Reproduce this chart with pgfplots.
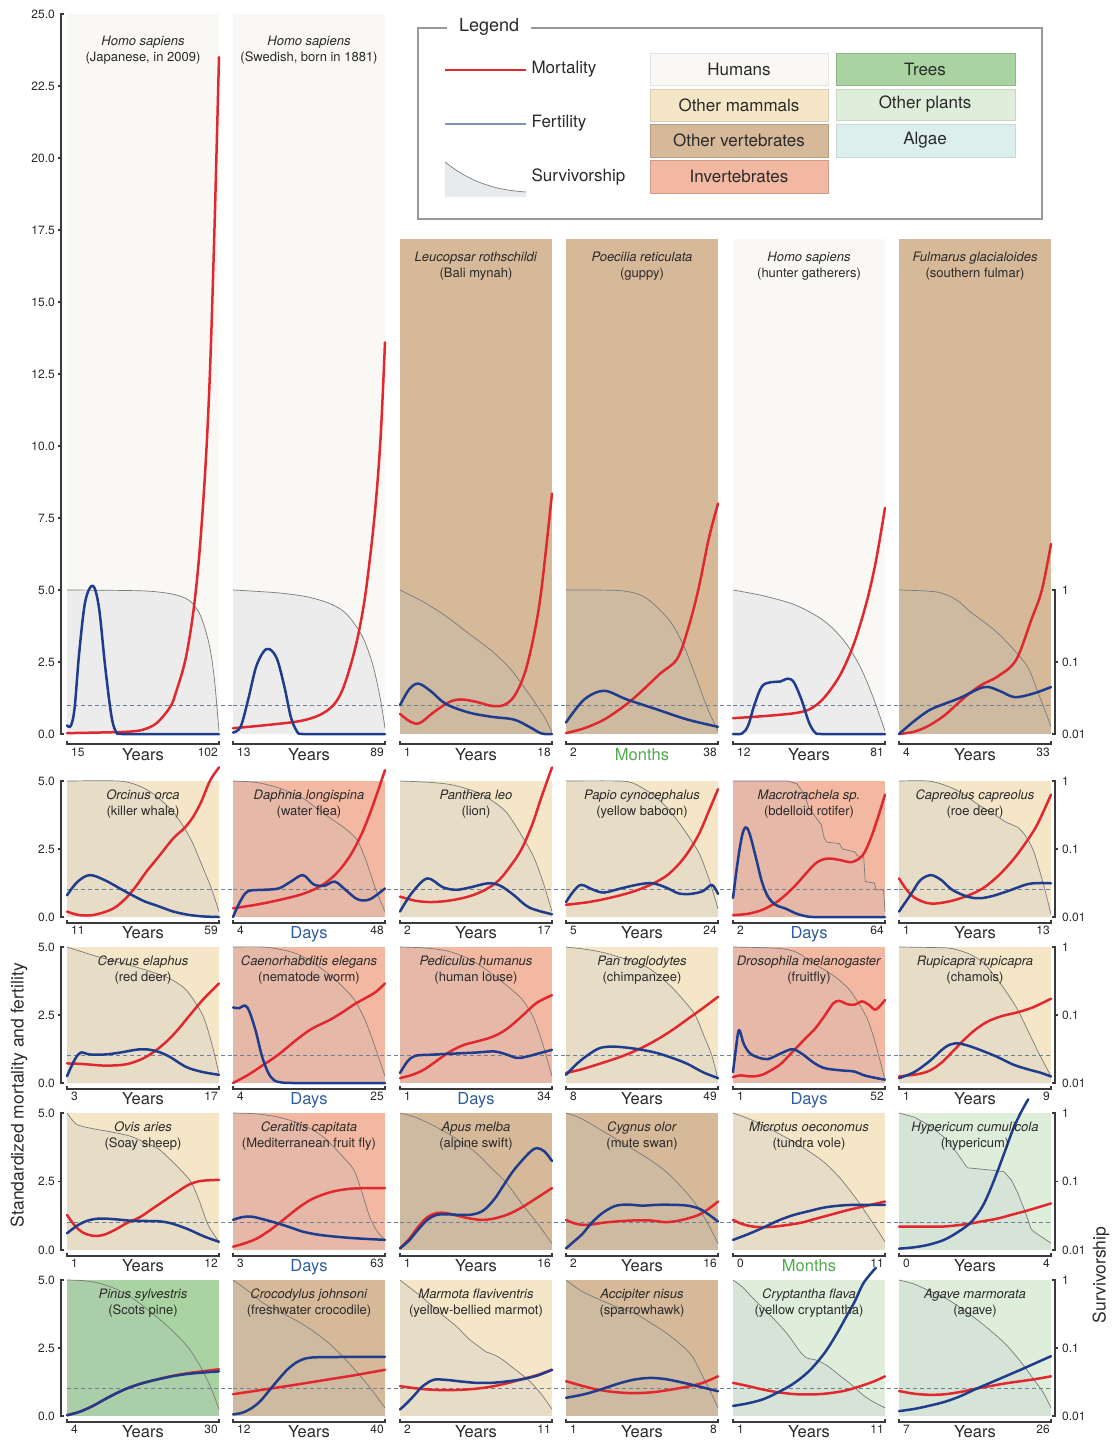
\documentclass[border=0pt]{standalone}
\usepackage{pgfplots}
\pgfplotsset{compat=1.18}
\usepackage{fontspec}
\setmainfont{TeX Gyre Heros}
\definecolor{cRed}{HTML}{E0282E}
\definecolor{cBlue}{HTML}{1F3D8C}
\definecolor{cLBlue}{HTML}{7B96B8}
\definecolor{cGrey}{HTML}{7A7A7A}
\definecolor{cSurv}{HTML}{B0BCC8}
\definecolor{bHum}{HTML}{FAF8F4}
\definecolor{bMam}{HTML}{F5E6C7}
\definecolor{bVer}{HTML}{D6B998}
\definecolor{bInv}{HTML}{F3B8A1}
\definecolor{bTre}{HTML}{A9D4A1}
\definecolor{bPla}{HTML}{DFEEDA}
\definecolor{bAlg}{HTML}{DDEFEC}
\definecolor{cDays}{HTML}{2F5DA3}
\definecolor{cMon}{HTML}{4FA94B}
\definecolor{cTxt}{HTML}{2A2A2A}
\definecolor{cAx}{HTML}{3A3A3A}
\definecolor{cDash}{HTML}{6D8096}
\newcommand{\tickf}{\fontsize{12}{14}\selectfont}
\newcommand{\numf}{\fontsize{12}{14}\selectfont}
\newcommand{\unitf}{\fontsize{16.5}{18}\selectfont}
\newcommand{\labf}{\fontsize{13}{15.5}\selectfont}
\pgfplotsset{
 panel/.style={scale only axis, width=152pt, anchor=south west, xmin=0, xmax=1, ymin=0,
   clip=false, axis line style={draw=none}, xtick=\empty, ytick=\empty},
 mort/.style={smooth, tension=0.55, color=cRed, line width=2.5pt, line cap=round, line join=round},
 fert/.style={smooth, tension=0.55, color=cBlue, line width=2.5pt, line cap=round, line join=round},
 survl/.style={color=cGrey, line width=0.7pt},
}
\tikzset{axl/.style={draw=cAx, line width=1.4pt}, dashl/.style={draw=cDash, line width=0.7pt, dash pattern=on 4pt off 3pt}}
\newcommand{\surv}[2][smooth, tension=0.5]{%
 \addplot[#1, draw=none, fill=cSurv, fill opacity=0.2] coordinates {#2} \closedcycle;
 \addplot[#1, survl] coordinates {#2};}
\newcommand{\mort}[1]{\addplot[mort] coordinates {#1};}
\newcommand{\fert}[1]{\addplot[fert] coordinates {#1};}
\newcommand{\dline}[1][15pt]{\draw[dashl] (axis cs:0,1) -- ([xshift=#1]axis cs:1,1);}
\newcommand{\lab}[3][9pt]{\node[anchor=north, align=center, font=\labf, text=cTxt, inner sep=0pt] at ([yshift=-#1]rel axis cs:0.5,1) {\textit{#2}\\(#3)};}
\def\xa{-3pt}\def\xb{-6pt}\def\xc{-9pt}
\newcommand{\xl}[4][cTxt]{%
 \draw[axl] ([yshift=\xa]rel axis cs:0,0) -- ([yshift=\xb]rel axis cs:0,0) -- ([yshift=\xb]rel axis cs:1,0) -- ([yshift=\xa]rel axis cs:1,0);
 \node[anchor=north west, inner sep=0pt, font=\numf, text=cTxt] at ([xshift=4pt,yshift=\xc]rel axis cs:0,0) {#2};
 \node[anchor=north east, inner sep=0pt, font=\numf, text=cTxt] at ([xshift=-1pt,yshift=\xc]rel axis cs:1,0) {#4};
 \node[anchor=north, inner sep=0pt, font=\unitf, text=#1] at ([yshift=\xc]rel axis cs:0.5,0) {#3};}
\newcommand{\lframe}[1]{\draw[axl] ([xshift=-3pt]axis cs:0,0) -- ([xshift=-6pt]axis cs:0,0) -- ([xshift=-6pt]axis cs:0,#1) -- ([xshift=-3pt]axis cs:0,#1);}
\newcommand{\lnum}[2]{\node[anchor=east, font=\tickf, text=cTxt, inner sep=0pt] at ([xshift=-12pt]axis cs:0,#1) {#2};}
\newcommand{\ltick}[2]{\draw[axl] ([xshift=-6pt]axis cs:0,#1) -- ([xshift=-9pt]axis cs:0,#1); \lnum{#1}{#2}}
\newcommand{\lsmall}{\lframe{5}\lnum{0}{0.0}\ltick{2.5}{2.5}\lnum{5}{5.0}}
\newcommand{\raxis}{\draw[axl] ([xshift=1pt]axis cs:1,0) -- ([xshift=4pt]axis cs:1,0) -- ([xshift=4pt]axis cs:1,5) -- ([xshift=1pt]axis cs:1,5);
 \draw[axl] ([xshift=4pt]axis cs:1,2.5) -- ([xshift=7pt]axis cs:1,2.5);
 \node[anchor=west, font=\tickf, text=cTxt, inner sep=0pt] at ([xshift=11pt]axis cs:1,5) {1};
 \node[anchor=west, font=\tickf, text=cTxt, inner sep=0pt] at ([xshift=11pt]axis cs:1,2.5) {0.1};
 \node[anchor=west, font=\tickf, text=cTxt, inner sep=0pt] at ([xshift=11pt]axis cs:1,0) {0.01};}
\begin{document}
\begin{tikzpicture}
\useasboundingbox (0,0) rectangle (1116pt,-1443pt);
% ================= TOP: tall panels =================
\def\xa{-7pt}\def\xb{-10pt}\def\xc{-14pt}
\begin{axis}[panel, at={(67pt,-734pt)}, height=720pt, ymax=25, axis background/.style={fill=bHum}]
\surv{(0,5)(0.5,4.97)(0.7,4.85)(0.8,4.65)(0.86,4.3)(0.9,3.8)(0.94,3.0)(0.97,1.9)(1,0.1)}
\dline
\mort{(0,0.03)(0.2,0.05)(0.4,0.08)(0.5,0.15)(0.59,0.38)(0.68,0.95)(0.72,1.5)(0.78,2.6)(0.83,4.2)(0.87,6.2)(0.91,9.2)(0.94,12.5)(0.97,17.5)(1,23.5)}
\fert{(0,0.3)(0.025,0.28)(0.05,0.9)(0.08,2.8)(0.12,4.6)(0.17,5.15)(0.21,4.4)(0.25,2.4)(0.29,0.7)(0.32,0.1)(0.36,0)(0.6,0)(1,0)}
\lab[22pt]{Homo sapiens}{Japanese, in 2009}
\xl{15}{Years}{102}
\lframe{25}\lnum{0}{0.0}\ltick{2.5}{2.5}\ltick{5}{5.0}\ltick{7.5}{7.5}\ltick{10}{10.0}\ltick{12.5}{12.5}\ltick{15}{15.0}\ltick{17.5}{17.5}\ltick{20}{20.0}\ltick{22.5}{22.5}\lnum{25}{25.0}
\end{axis}
\begin{axis}[panel, at={(233pt,-734pt)}, height=720pt, ymax=25, axis background/.style={fill=bHum}]
\surv{(0,5)(0.3,4.9)(0.5,4.75)(0.65,4.5)(0.75,4.15)(0.85,3.4)(0.92,2.4)(0.97,1.2)(1,0.2)}
\dline
\mort{(0,0.2)(0.22,0.31)(0.44,0.45)(0.57,0.66)(0.66,1.0)(0.72,1.53)(0.78,2.5)(0.83,3.6)(0.875,5.0)(0.93,7.5)(0.97,10.2)(1,13.6)}
\fert{(0,0.05)(0.05,0.25)(0.1,1.2)(0.15,2.3)(0.2,2.85)(0.24,2.95)(0.29,2.6)(0.34,1.6)(0.38,0.6)(0.42,0.1)(0.46,0)(0.7,0)(1,0)}
\lab[22pt]{Homo sapiens}{Swedish, born in 1881}
\xl{13}{Years}{89}
\end{axis}
% ================= Row 2 =================
\begin{axis}[panel, at={(400pt,-734pt)}, height=495pt, ymax=17.1875, axis background/.style={fill=bVer}]
\surv{(0,5)(0.15,4.6)(0.3,4.1)(0.45,3.5)(0.6,2.9)(0.72,2.3)(0.82,1.6)(0.9,1.0)(0.96,0.5)(1,0.05)}
\dline
\mort{(0,0.7)(0.07,0.42)(0.13,0.38)(0.22,0.75)(0.32,1.1)(0.4,1.2)(0.5,1.12)(0.6,0.98)(0.68,1.0)(0.75,1.3)(0.82,2.1)(0.88,3.4)(0.93,5.0)(1,8.35)}
\fert{(0,1.0)(0.06,1.55)(0.12,1.75)(0.2,1.5)(0.3,1.05)(0.45,0.75)(0.6,0.6)(0.75,0.5)(0.85,0.25)(0.93,0.02)(1,0)}
\lab[13pt]{Leucopsar rothschildi}{Bali mynah}
\xl{1}{Years}{18}
\end{axis}
\begin{axis}[panel, at={(566pt,-734pt)}, height=495pt, ymax=17.1875, axis background/.style={fill=bVer}]
\surv{(0,5)(0.35,4.98)(0.5,4.8)(0.6,4.4)(0.7,3.8)(0.78,3.0)(0.86,1.9)(0.93,0.9)(1,0.1)}
\dline
\mort{(0,0.03)(0.12,0.2)(0.25,0.5)(0.39,1.0)(0.5,1.5)(0.62,2.1)(0.73,2.6)(0.8,3.6)(0.87,5.0)(0.94,6.8)(1,8.0)}
\fert{(0,0.4)(0.12,1.2)(0.25,1.5)(0.4,1.2)(0.6,0.85)(0.8,0.5)(1,0.25)}
\lab[13pt]{Poecilia reticulata}{guppy}
\xl[cMon]{2}{Months}{38}
\end{axis}
\begin{axis}[panel, at={(733pt,-734pt)}, height=495pt, ymax=17.1875, axis background/.style={fill=bHum}]
\surv{(0,5)(0.2,4.8)(0.4,4.5)(0.55,4.1)(0.65,3.7)(0.75,3.1)(0.84,2.3)(0.92,1.3)(1,0.1)}
\dline
\mort{(0,0.55)(0.2,0.62)(0.4,0.72)(0.5,0.85)(0.58,1.15)(0.65,1.6)(0.72,2.2)(0.8,3.2)(0.88,4.6)(0.94,6.0)(1,7.85)}
\fert{(0,0)(0.06,0.02)(0.1,0.3)(0.14,1.0)(0.19,1.65)(0.25,1.8)(0.31,1.82)(0.36,1.92)(0.4,1.8)(0.45,1.2)(0.5,0.4)(0.54,0.05)(0.58,0)(0.8,0)(1,0)}
\lab[13pt]{Homo sapiens}{hunter gatherers}
\xl{12}{Years}{81}
\end{axis}
\begin{axis}[panel, at={(899pt,-734pt)}, height=495pt, ymax=17.1875, axis background/.style={fill=bVer}]
\surv{(0,5)(0.25,4.93)(0.38,4.65)(0.47,4.24)(0.63,3.6)(0.76,2.9)(0.85,2.3)(0.91,1.5)(0.96,0.83)(1,0.25)}
\dline[0pt]
\mort{(0,0)(0.1,0.08)(0.2,0.3)(0.3,0.65)(0.37,0.98)(0.45,1.35)(0.54,1.7)(0.65,2.0)(0.77,2.57)(0.87,3.96)(0.94,5.0)(1,6.6)}
\fert{(0,0)(0.1,0.45)(0.2,0.83)(0.3,1.05)(0.4,1.25)(0.56,1.63)(0.66,1.5)(0.76,1.28)(0.88,1.4)(1,1.63)}
\lab[13pt]{Fulmarus glacialoides}{southern fulmar}
\xl{4}{Years}{33}
\raxis
\end{axis}
% ================= Row 3 =================
\def\xa{-3pt}\def\xb{-6pt}\def\xc{-9pt}
\begin{axis}[panel, at={(67pt,-917pt)}, height=136pt, ymax=5, axis background/.style={fill=bMam}]
\surv{(0,5)(0.34,5)(0.46,4.85)(0.55,4.6)(0.63,4.24)(0.7,3.85)(0.76,3.38)(0.82,2.8)(0.86,2.28)(0.91,1.6)(0.95,1.05)(1,0.2)}
\dline
\mort{(0,0.2)(0.08,0.07)(0.18,0.08)(0.3,0.3)(0.38,0.65)(0.45,1.1)(0.52,1.65)(0.6,2.2)(0.7,2.9)(0.76,3.2)(0.82,3.6)(0.88,4.2)(0.94,5.0)(1,5.5)}
\fert{(0,0.8)(0.07,1.3)(0.15,1.54)(0.25,1.35)(0.38,0.95)(0.5,0.6)(0.6,0.4)(0.7,0.2)(0.8,0.08)(0.9,0.02)(1,0)}
\lab{Orcinus orca}{killer whale}
\xl{11}{Years}{59}
\lsmall
\end{axis}
\begin{axis}[panel, at={(233pt,-917pt)}, height=136pt, ymax=5, axis background/.style={fill=bInv}]
\surv{(0,5)(0.15,4.95)(0.3,4.75)(0.45,4.4)(0.55,4.0)(0.65,3.6)(0.75,3.2)(0.82,2.8)(0.88,2.0)(0.94,1.0)(1,0.2)}
\dline
\mort{(0,0.32)(0.15,0.45)(0.3,0.62)(0.46,0.85)(0.58,1.15)(0.68,1.6)(0.77,2.25)(0.85,3.1)(0.92,4.1)(1,5.4)}
\fert{(0,0)(0.05,0.6)(0.1,0.95)(0.2,1.0)(0.3,1.05)(0.38,1.3)(0.46,1.54)(0.53,1.2)(0.6,1.15)(0.67,1.3)(0.74,1.0)(0.82,0.65)(0.9,0.65)(1,1.05)}
\lab{Daphnia longispina}{water flea}
\xl[cDays]{4}{Days}{48}
\end{axis}
\begin{axis}[panel, at={(400pt,-917pt)}, height=136pt, ymax=5, axis background/.style={fill=bMam}]
\surv{(0,5)(0.2,4.95)(0.35,4.85)(0.5,4.6)(0.6,4.3)(0.7,3.85)(0.8,3.0)(0.88,2.2)(0.94,1.3)(1,0.2)}
\dline
\mort{(0,0.75)(0.1,0.6)(0.2,0.55)(0.32,0.6)(0.45,0.75)(0.56,1.0)(0.65,1.35)(0.73,1.9)(0.8,2.5)(0.87,3.4)(0.93,4.4)(1,5.5)}
\fert{(0,0.2)(0.08,0.9)(0.18,1.42)(0.28,1.1)(0.37,1.0)(0.47,1.1)(0.58,1.24)(0.66,1.15)(0.75,0.8)(0.85,0.35)(1,0.1)}
\lab{Panthera leo}{lion}
\xl{2}{Years}{17}
\end{axis}
\begin{axis}[panel, at={(566pt,-917pt)}, height=136pt, ymax=5, axis background/.style={fill=bMam}]
\surv{(0,5)(0.35,5)(0.45,4.9)(0.57,4.5)(0.66,4.05)(0.74,3.5)(0.82,2.85)(0.88,2.3)(0.94,1.4)(1,0.3)}
\dline
\mort{(0,0.45)(0.15,0.55)(0.3,0.72)(0.45,0.95)(0.58,1.25)(0.68,1.6)(0.78,2.2)(0.87,3.0)(0.94,3.9)(1,4.7)}
\fert{(0,0.55)(0.05,0.95)(0.1,1.18)(0.18,1.0)(0.25,0.9)(0.36,1.05)(0.48,1.2)(0.57,1.24)(0.66,1.08)(0.74,0.87)(0.82,0.85)(0.9,0.95)(0.96,1.18)(1,0.85)}
\lab{Papio cynocephalus}{yellow baboon}
\xl{5}{Years}{24}
\end{axis}
\begin{axis}[panel, at={(733pt,-917pt)}, height=136pt, ymax=5, axis background/.style={fill=bInv}]
\surv[sharp plot]{(0,5)(0.36,5)(0.42,4.9)(0.47,4.5)(0.5,4.0)(0.54,3.7)(0.58,3.4)(0.6,2.9)(0.62,2.75)(0.7,2.7)(0.72,2.5)(0.8,2.4)(0.82,2.25)(0.86,2.2)(0.87,1.3)(0.93,1.25)(0.94,1.0)(0.99,1.0)(1,0.2)}
\dline
\mort{(0,0.07)(0.1,0.12)(0.2,0.28)(0.3,0.6)(0.4,1.1)(0.48,1.6)(0.55,2.0)(0.62,2.15)(0.7,2.1)(0.78,2.02)(0.85,2.25)(0.9,2.8)(0.95,3.6)(1,4.5)}
\fert{(0,0.7)(0.03,2.0)(0.06,3.0)(0.085,3.3)(0.11,3.05)(0.15,2.2)(0.19,1.3)(0.23,0.75)(0.28,0.45)(0.35,0.3)(0.42,0.12)(0.5,0.01)(0.6,0)(0.8,0)(1,0)}
\lab{Macrotrachela sp.}{bdelloid rotifer}
\xl[cDays]{2}{Days}{64}
\end{axis}
\begin{axis}[panel, at={(899pt,-917pt)}, height=136pt, ymax=5, axis background/.style={fill=bMam}]
\surv{(0,5)(0.19,5)(0.3,4.85)(0.4,4.6)(0.53,4.1)(0.62,3.8)(0.7,3.5)(0.78,3.3)(0.83,3.0)(0.88,2.5)(0.92,1.8)(0.96,1.0)(1,0.1)}
\dline[0pt]
\mort{(0,1.42)(0.05,1.0)(0.1,0.72)(0.18,0.52)(0.25,0.5)(0.35,0.6)(0.45,0.78)(0.55,1.05)(0.65,1.5)(0.75,2.1)(0.83,2.7)(0.9,3.3)(0.96,4.0)(1,4.5)}
\fert{(0,0.2)(0.08,0.85)(0.14,1.35)(0.21,1.54)(0.28,1.35)(0.35,1.0)(0.45,0.75)(0.53,0.69)(0.62,0.78)(0.74,1.0)(0.84,1.2)(0.92,1.25)(1,1.24)}
\lab{Capreolus capreolus}{roe deer}
\xl{1}{Years}{13}
\raxis
\end{axis}
% ================= Row 4 =================
\begin{axis}[panel, at={(67pt,-1083pt)}, height=136pt, ymax=5, axis background/.style={fill=bMam}]
\surv{(0,5)(0.2,4.65)(0.4,4.35)(0.55,4.1)(0.67,3.85)(0.77,3.5)(0.84,3.0)(0.9,2.4)(0.95,1.5)(1,0.35)}
\dline
\mort{(0,0.72)(0.1,0.7)(0.25,0.64)(0.38,0.68)(0.48,0.85)(0.56,1.1)(0.64,1.45)(0.72,1.9)(0.8,2.44)(0.9,3.1)(1,3.66)}
\fert{(0,0.25)(0.05,0.85)(0.09,1.12)(0.15,1.05)(0.25,1.05)(0.35,1.12)(0.45,1.22)(0.52,1.24)(0.6,1.15)(0.68,0.95)(0.78,0.6)(0.88,0.42)(1,0.3)}
\lab{Cervus elaphus}{red deer}
\xl{3}{Years}{17}
\lsmall
\end{axis}
\begin{axis}[panel, at={(233pt,-1083pt)}, height=136pt, ymax=5, axis background/.style={fill=bInv}]
\surv{(0,5)(0.2,5)(0.32,4.9)(0.42,4.75)(0.52,4.45)(0.63,4.0)(0.72,3.55)(0.8,3.05)(0.87,2.3)(0.93,1.4)(1,0.25)}
\dline
\mort{(0,0.0)(0.1,0.3)(0.2,0.67)(0.3,1.05)(0.42,1.6)(0.52,2.0)(0.63,2.3)(0.72,2.6)(0.8,2.9)(0.88,3.15)(0.94,3.35)(1,3.66)}
\fert{(0,2.78)(0.04,2.75)(0.08,2.85)(0.11,2.6)(0.15,1.9)(0.19,1.0)(0.23,0.4)(0.27,0.1)(0.32,0.02)(0.4,0)(0.7,0)(1,0)}
\lab{Caenorhabditis elegans}{nematode worm}
\xl[cDays]{4}{Days}{25}
\end{axis}
\begin{axis}[panel, at={(400pt,-1083pt)}, height=136pt, ymax=5, axis background/.style={fill=bInv}]
\surv{(0,5)(0.15,4.97)(0.3,4.87)(0.42,4.65)(0.52,4.35)(0.62,3.95)(0.72,3.5)(0.8,3.1)(0.87,2.5)(0.93,1.6)(1,0.25)}
\dline
\mort{(0,0.18)(0.08,0.3)(0.16,0.5)(0.25,0.85)(0.33,1.16)(0.42,1.4)(0.5,1.52)(0.6,1.68)(0.68,1.9)(0.75,2.2)(0.82,2.55)(0.9,2.95)(1,3.23)}
\fert{(0,0.37)(0.05,0.8)(0.1,1.0)(0.2,1.04)(0.35,1.08)(0.5,1.12)(0.62,1.16)(0.7,1.05)(0.77,0.92)(0.84,0.98)(0.92,1.1)(1,1.22)}
\lab{Pediculus humanus}{human louse}
\xl[cDays]{1}{Days}{34}
\end{axis}
\begin{axis}[panel, at={(566pt,-1083pt)}, height=136pt, ymax=5, axis background/.style={fill=bMam}]
\surv{(0,5)(0.15,4.9)(0.28,4.75)(0.42,4.5)(0.53,4.27)(0.62,3.9)(0.7,3.5)(0.78,3.0)(0.85,2.5)(0.91,1.7)(0.96,1.0)(1,0.12)}
\dline
\mort{(0,0.37)(0.1,0.5)(0.2,0.67)(0.3,0.85)(0.4,1.05)(0.5,1.3)(0.6,1.6)(0.7,1.95)(0.8,2.35)(0.9,2.75)(1,3.17)}
\fert{(0,0.3)(0.08,0.75)(0.15,1.05)(0.22,1.28)(0.3,1.34)(0.4,1.3)(0.5,1.22)(0.6,1.1)(0.7,0.92)(0.8,0.7)(0.9,0.4)(1,0.18)}
\lab{Pan troglodytes}{chimpanzee}
\xl{8}{Years}{49}
\end{axis}
\begin{axis}[panel, at={(733pt,-1083pt)}, height=136pt, ymax=5, axis background/.style={fill=bInv}]
\surv{(0,5)(0.3,4.95)(0.42,4.8)(0.53,4.4)(0.62,4.1)(0.7,3.78)(0.77,3.4)(0.83,2.9)(0.88,2.4)(0.93,1.6)(1,0.12)}
\dline
\mort{(0,0.22)(0.05,0.28)(0.12,0.24)(0.19,0.3)(0.26,0.5)(0.32,0.73)(0.4,1.2)(0.47,1.6)(0.54,2.0)(0.6,2.45)(0.66,2.93)(0.7,3.02)(0.75,2.9)(0.8,2.88)(0.85,3.0)(0.9,2.85)(0.94,2.7)(1,3.05)}
\fert{(0,0.4)(0.02,1.3)(0.04,1.95)(0.07,1.45)(0.11,1.1)(0.17,0.93)(0.23,0.88)(0.3,1.05)(0.36,1.2)(0.4,1.24)(0.46,1.05)(0.53,0.75)(0.6,0.55)(0.7,0.47)(0.8,0.42)(0.87,0.27)(1,0.12)}
\lab{Drosophila melanogaster}{fruitfly}
\xl[cDays]{1}{Days}{52}
\end{axis}
\begin{axis}[panel, at={(899pt,-1083pt)}, height=136pt, ymax=5, axis background/.style={fill=bMam}]
\surv{(0,5)(0.3,4.97)(0.38,4.9)(0.46,4.75)(0.55,4.45)(0.62,4.0)(0.7,3.4)(0.78,2.7)(0.85,1.9)(0.92,1.1)(1,0.24)}
\dline[0pt]
\mort{(0,0.24)(0.06,0.28)(0.12,0.32)(0.2,0.45)(0.28,0.75)(0.36,1.2)(0.43,1.6)(0.5,1.95)(0.58,2.25)(0.67,2.45)(0.78,2.6)(0.88,2.78)(1,3.1)}
\fert{(0,0.18)(0.1,0.4)(0.2,0.8)(0.3,1.3)(0.37,1.46)(0.45,1.38)(0.55,1.18)(0.65,0.95)(0.75,0.68)(0.85,0.5)(0.93,0.38)(1,0.24)}
\lab{Rupicapra rupicapra}{chamois}
\xl{1}{Years}{9}
\raxis
\end{axis}
% ================= Row 5 =================
\begin{axis}[panel, at={(67pt,-1250pt)}, height=137pt, ymax=5, axis background/.style={fill=bMam}]
\surv{(0,5)(0.06,4.6)(0.15,4.45)(0.3,4.3)(0.42,4.15)(0.52,3.9)(0.6,3.7)(0.68,3.3)(0.76,2.85)(0.82,2.45)(0.87,1.8)(0.93,0.9)(1,0.3)}
\dline
\mort{(0,1.28)(0.05,0.9)(0.1,0.65)(0.17,0.52)(0.24,0.55)(0.32,0.75)(0.4,1.0)(0.48,1.2)(0.56,1.5)(0.64,1.8)(0.72,2.1)(0.8,2.38)(0.88,2.52)(1,2.56)}
\fert{(0,0.61)(0.07,0.9)(0.14,1.08)(0.22,1.15)(0.32,1.12)(0.42,1.07)(0.52,1.06)(0.62,1.04)(0.7,0.95)(0.8,0.75)(0.9,0.5)(1,0.3)}
\lab{Ovis aries}{Soay sheep}
\xl{1}{Years}{12}
\lsmall
\end{axis}
\begin{axis}[panel, at={(233pt,-1250pt)}, height=137pt, ymax=5, axis background/.style={fill=bInv}]
\surv{(0,5)(0.15,4.97)(0.3,4.85)(0.42,4.65)(0.52,4.4)(0.6,4.1)(0.67,3.72)(0.74,3.3)(0.8,2.87)(0.86,1.9)(0.9,1.2)(0.95,0.67)(1,0.37)}
\dline
\mort{(0,0.12)(0.08,0.25)(0.16,0.43)(0.25,0.75)(0.33,1.1)(0.42,1.5)(0.5,1.8)(0.58,2.0)(0.67,2.15)(0.78,2.24)(0.9,2.26)(1,2.26)}
\fert{(0,1.1)(0.06,1.2)(0.12,1.22)(0.2,1.12)(0.29,0.98)(0.38,0.82)(0.46,0.67)(0.56,0.56)(0.67,0.49)(0.8,0.43)(1,0.37)}
\lab{Ceratitis capitata}{Mediterranean fruit fly}
\xl[cDays]{3}{Days}{63}
\end{axis}
\begin{axis}[panel, at={(400pt,-1250pt)}, height=137pt, ymax=5, axis background/.style={fill=bVer}]
\surv{(0,5)(0.1,4.85)(0.2,4.6)(0.3,4.3)(0.4,3.95)(0.5,3.55)(0.6,3.0)(0.7,2.45)(0.8,1.7)(0.9,1.0)(1,0.24)}
\dline
\mort{(0,0.06)(0.06,0.4)(0.12,0.85)(0.18,1.2)(0.24,1.35)(0.3,1.35)(0.38,1.25)(0.46,1.15)(0.54,1.1)(0.62,1.15)(0.71,1.3)(0.8,1.55)(0.9,1.9)(1,2.26)}
\fert{(0,0.06)(0.06,0.35)(0.12,0.75)(0.18,1.1)(0.24,1.28)(0.32,1.3)(0.4,1.28)(0.48,1.3)(0.55,1.45)(0.62,1.85)(0.68,2.35)(0.74,2.85)(0.8,3.25)(0.86,3.6)(0.9,3.72)(0.95,3.6)(1,3.25)}
\lab{Apus melba}{alpine swift}
\xl{1}{Years}{16}
\end{axis}
\begin{axis}[panel, at={(566pt,-1250pt)}, height=137pt, ymax=5, axis background/.style={fill=bVer}]
\surv{(0,5)(0.08,4.85)(0.18,4.55)(0.3,4.15)(0.42,3.75)(0.55,3.3)(0.66,2.85)(0.76,2.3)(0.85,1.7)(0.93,1.0)(1,0.24)}
\dline
\mort{(0,1.1)(0.07,0.95)(0.15,0.92)(0.25,1.0)(0.35,1.05)(0.45,1.08)(0.55,1.08)(0.65,1.02)(0.72,1.05)(0.8,1.15)(0.88,1.3)(0.95,1.55)(1,1.77)}
\fert{(0,0.06)(0.05,0.3)(0.11,0.6)(0.17,1.0)(0.24,1.35)(0.32,1.6)(0.4,1.66)(0.5,1.62)(0.6,1.65)(0.7,1.65)(0.8,1.62)(0.88,1.5)(0.95,1.25)(1,1.04)}
\lab{Cygnus olor}{mute swan}
\xl{2}{Years}{16}
\end{axis}
\begin{axis}[panel, at={(733pt,-1250pt)}, height=137pt, ymax=5, axis background/.style={fill=bMam}]
\surv{(0,5)(0.1,4.8)(0.2,4.55)(0.3,4.25)(0.4,3.95)(0.5,3.6)(0.6,3.2)(0.7,2.65)(0.8,1.95)(0.9,1.15)(1,0.3)}
\dline
\mort{(0,1.1)(0.06,0.95)(0.14,0.85)(0.24,0.84)(0.34,0.9)(0.45,1.0)(0.55,1.15)(0.65,1.3)(0.75,1.45)(0.85,1.58)(0.93,1.68)(1,1.77)}
\fert{(0,0.37)(0.1,0.58)(0.2,0.82)(0.3,1.08)(0.4,1.28)(0.5,1.42)(0.6,1.55)(0.7,1.62)(0.8,1.65)(0.9,1.65)(1,1.65)}
\lab{Microtus oeconomus}{tundra vole}
\xl[cMon]{0}{Months}{11}
\end{axis}
\begin{axis}[panel, at={(899pt,-1250pt)}, height=137pt, ymax=5, axis background/.style={fill=bPla}]
\surv[sharp plot]{(0,5)(0.1,4.85)(0.2,4.55)(0.3,4.1)(0.38,3.55)(0.45,3.0)(0.6,2.92)(0.69,2.86)(0.74,2.55)(0.78,2.1)(0.83,1.4)(0.87,0.75)(0.9,0.62)(1,0.25)}
\dline[0pt]
\mort{(0,0.85)(0.15,0.85)(0.3,0.86)(0.45,0.95)(0.55,1.05)(0.65,1.15)(0.75,1.3)(0.85,1.45)(1,1.7)}
\fert{(0,0.05)(0.1,0.1)(0.2,0.2)(0.3,0.38)(0.4,0.7)(0.48,1.05)(0.55,1.6)(0.6,2.2)(0.65,2.9)(0.7,3.65)(0.75,4.4)(0.8,5.0)(0.85,5.5)}
\lab{Hypericum cumulicola}{hypericum}
\xl{0}{Years}{4}
\raxis
\end{axis}
% ================= Row 6 =================
\begin{axis}[panel, at={(67pt,-1416pt)}, height=136pt, ymax=5, axis background/.style={fill=bTre}]
\surv{(0,5)(0.1,4.98)(0.2,4.9)(0.3,4.72)(0.4,4.45)(0.5,4.05)(0.6,3.6)(0.7,3.1)(0.8,2.5)(0.88,1.8)(0.95,1.0)(1,0.24)}
\dline
\mort{(0,0.03)(0.08,0.15)(0.17,0.37)(0.27,0.68)(0.38,0.98)(0.48,1.18)(0.59,1.34)(0.7,1.48)(0.8,1.58)(0.9,1.65)(1,1.72)}
\fert{(0,0.03)(0.08,0.15)(0.17,0.37)(0.27,0.68)(0.38,0.98)(0.48,1.18)(0.59,1.34)(0.7,1.47)(0.8,1.55)(0.9,1.6)(1,1.64)}
\lab{Pinus sylvestris}{Scots pine}
\xl{4}{Years}{30}
\lsmall
\end{axis}
\begin{axis}[panel, at={(233pt,-1416pt)}, height=136pt, ymax=5, axis background/.style={fill=bVer}]
\surv{(0,5)(0.1,4.6)(0.2,4.15)(0.3,3.85)(0.42,3.5)(0.52,3.15)(0.63,2.68)(0.72,2.2)(0.8,1.71)(0.9,1.05)(1,0.3)}
\dline
\mort{(0,0.8)(0.2,0.97)(0.4,1.14)(0.6,1.32)(0.8,1.5)(1,1.7)}
\fert{(0,0.06)(0.06,0.12)(0.12,0.28)(0.18,0.55)(0.24,0.95)(0.3,1.35)(0.36,1.72)(0.42,1.98)(0.48,2.12)(0.55,2.16)(0.7,2.17)(1,2.17)}
\lab{Crocodylus johnsoni}{freshwater crocodile}
\xl{12}{Years}{40}
\end{axis}
\begin{axis}[panel, at={(400pt,-1416pt)}, height=136pt, ymax=5, axis background/.style={fill=bMam}]
\surv{(0,5)(0.08,4.65)(0.16,4.3)(0.26,3.8)(0.37,3.3)(0.45,2.85)(0.52,2.55)(0.57,2.35)(0.62,2.25)(0.68,2.05)(0.76,1.7)(0.85,1.3)(0.93,0.8)(1,0.25)}
\dline
\mort{(0,1.1)(0.1,1.02)(0.2,0.97)(0.32,0.95)(0.45,0.98)(0.58,1.06)(0.7,1.2)(0.8,1.35)(0.9,1.5)(1,1.7)}
\fert{(0,0.24)(0.05,0.5)(0.1,0.8)(0.15,1.1)(0.22,1.33)(0.3,1.33)(0.4,1.27)(0.5,1.22)(0.6,1.22)(0.7,1.27)(0.8,1.35)(0.9,1.48)(1,1.7)}
\lab{Marmota flaviventris}{yellow-bellied marmot}
\xl{2}{Years}{11}
\end{axis}
\begin{axis}[panel, at={(566pt,-1416pt)}, height=136pt, ymax=5, axis background/.style={fill=bVer}]
\surv{(0,5)(0.1,4.6)(0.22,4.28)(0.35,3.98)(0.45,3.78)(0.55,3.45)(0.66,3.05)(0.75,2.65)(0.83,2.2)(0.9,1.45)(0.95,0.9)(1,0.3)}
\dline
\mort{(0,1.28)(0.1,1.12)(0.2,0.98)(0.32,0.88)(0.45,0.84)(0.58,0.88)(0.7,0.98)(0.8,1.08)(0.9,1.22)(1,1.46)}
\fert{(0,0.67)(0.12,0.8)(0.23,0.98)(0.35,1.2)(0.45,1.34)(0.55,1.4)(0.65,1.36)(0.75,1.25)(0.85,1.12)(1,0.91)}
\lab{Accipiter nisus}{sparrowhawk}
\xl{1}{Years}{8}
\end{axis}
\begin{axis}[panel, at={(733pt,-1416pt)}, height=136pt, ymax=5, axis background/.style={fill=bPla}]
\surv{(0,5)(0.06,4.75)(0.12,4.4)(0.2,3.95)(0.28,3.5)(0.36,3.0)(0.43,2.45)(0.48,2.15)(0.55,2.05)(0.62,1.85)(0.7,1.5)(0.78,1.15)(0.86,0.75)(0.93,0.5)(1,0.3)}
\dline
\mort{(0,1.22)(0.1,1.1)(0.2,0.97)(0.3,0.87)(0.42,0.8)(0.55,0.8)(0.65,0.85)(0.75,0.95)(0.85,1.12)(0.93,1.28)(1,1.46)}
\fert{(0,0.37)(0.1,0.47)(0.2,0.62)(0.3,0.88)(0.4,1.2)(0.5,1.65)(0.6,2.3)(0.68,3.0)(0.75,3.7)(0.8,4.2)(0.86,4.9)(0.94,5.45)}
\lab{Cryptantha flava}{yellow cryptantha}
\xl{1}{Years}{11}
\end{axis}
\begin{axis}[panel, at={(899pt,-1416pt)}, height=136pt, ymax=5, axis background/.style={fill=bPla}]
\surv{(0,5)(0.1,4.85)(0.2,4.6)(0.3,4.35)(0.4,4.0)(0.5,3.6)(0.6,3.15)(0.7,2.65)(0.8,2.0)(0.88,1.4)(0.95,0.85)(1,0.3)}
\dline[0pt]
\mort{(0,0.92)(0.1,0.82)(0.2,0.78)(0.3,0.8)(0.4,0.88)(0.5,1.0)(0.6,1.1)(0.7,1.2)(0.8,1.28)(0.9,1.36)(1,1.46)}
\fert{(0,0.18)(0.1,0.26)(0.2,0.38)(0.3,0.52)(0.4,0.72)(0.5,0.98)(0.6,1.22)(0.7,1.46)(0.8,1.7)(0.9,1.95)(1,2.2)}
\lab{Agave marmorata}{agave}
\xl{7}{Years}{26}
\raxis
\end{axis}
% ================= axis titles =================
\node[rotate=90, font=\fontsize{17.5}{20}\selectfont, text=cTxt] at (19pt,-1095pt) {Standardized mortality and fertility};
\node[rotate=90, font=\fontsize{17.5}{20}\selectfont, text=cTxt] at (1101pt,-1275pt) {Survivorship};
% ================= Legend =================
\draw[draw=gray!80, line width=1.1pt] (418pt,-28pt) rectangle (1042pt,-219pt);
\node[anchor=west, fill=white, inner xsep=12pt, inner ysep=2pt, font=\fontsize{18}{20}\selectfont, text=cTxt] at (447pt,-27pt) {Legend};
\draw[cRed, line width=1.4pt] (445pt,-70pt) -- (526pt,-70pt);
\draw[cLBlue, line width=1.4pt] (445pt,-124pt) -- (526pt,-124pt);
\fill[cSurv!30] (445pt,-162pt) .. controls (470pt,-182pt) and (495pt,-190pt) .. (526pt,-192pt) -- (526pt,-197pt) -- (445pt,-197pt) -- cycle;
\draw[cGrey, line width=0.7pt] (445pt,-162pt) .. controls (470pt,-182pt) and (495pt,-190pt) .. (526pt,-192pt);
\begin{scope}[every node/.style={font=\fontsize{17}{20}\selectfont, text=cTxt}]
\node[anchor=west] at (528pt,-69pt) {Mortality};
\node[anchor=west] at (528pt,-123pt) {Fertility};
\node[anchor=west] at (528pt,-177pt) {Survivorship};
\filldraw[fill=bHum, draw=bHum!92!black, line width=0.5pt] (650pt,-53pt) rectangle (828pt,-85pt);
\filldraw[fill=bMam, draw=bMam!90!black, line width=0.5pt] (650pt,-89pt) rectangle (828pt,-121pt);
\filldraw[fill=bVer, draw=bVer!85!black, line width=0.5pt] (650pt,-124pt) rectangle (828pt,-157pt);
\filldraw[fill=bInv, draw=bInv!85!black, line width=0.5pt] (650pt,-160pt) rectangle (828pt,-193pt);
\filldraw[fill=bTre, draw=bTre!85!black, line width=0.5pt] (836pt,-53pt) rectangle (1015pt,-85pt);
\filldraw[fill=bPla, draw=bPla!90!black, line width=0.5pt] (836pt,-89pt) rectangle (1015pt,-120pt);
\filldraw[fill=bAlg, draw=bAlg!90!black, line width=0.5pt] (836pt,-124pt) rectangle (1015pt,-157pt);
\node at (739pt,-69pt) {Humans};
\node at (739pt,-105pt) {Other mammals};
\node at (739pt,-140.5pt) {Other vertebrates};
\node at (739pt,-176.5pt) {Invertebrates};
\node at (925pt,-69pt) {Trees};
\node at (925pt,-104.5pt) {Other plants};
\node at (925pt,-140.5pt) {Algae};
\end{scope}
\end{tikzpicture}
\end{document}
